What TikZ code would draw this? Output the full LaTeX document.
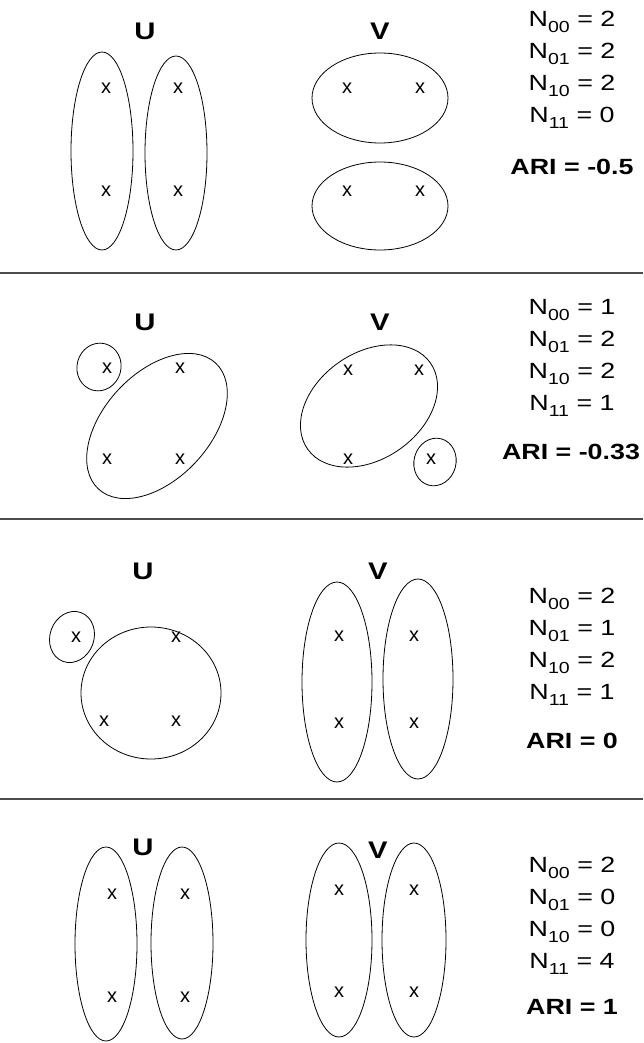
\documentclass[tikz,border=0pt]{standalone}
\usepackage{fontspec}
\setmainfont{Liberation Sans}
\usetikzlibrary{positioning}

\newcommand{\ix}[1]{\raisebox{-6pt}{\fontsize{16}{16}\selectfont #1}}
\newcommand{\wide}[1]{\scalebox{1.22}[1]{#1}}

\tikzset{
    cluster/.style={line width=0.8pt},
    pt/.style={inner sep=0pt, font=\fontsize{20}{20}\selectfont},
    setname/.style={inner sep=0pt, font=\fontsize{24}{24}\selectfont\bfseries},
    stat/.style={inner sep=0pt, anchor=base, font=\fontsize{22}{22}\selectfont},
    ari/.style={inner sep=0pt, anchor=base, font=\fontsize{22}{22}\selectfont\bfseries},
    divider/.style={line width=1.2pt, black!70}
}

\begin{document}
\begin{tikzpicture}[x=1pt, y=-1pt]
    \useasboundingbox (0,0) rectangle (643,1043);

    % Panel 1: ARI = -0.5
    \node[setname] (u1) at (145,31) {\wide{U}};
    \node[setname] (v1) at (380,31) {\wide{V}};
    \draw[cluster] (102,151) ellipse [x radius=31, y radius=99];
    \draw[cluster] (176,153) ellipse [x radius=31, y radius=97];
    \draw[cluster] (380,98) ellipse [x radius=68, y radius=45];
    \draw[cluster] (380,206) ellipse [x radius=68, y radius=44];
    \foreach \px/\py [count=\k] in {106/88, 178/88, 106/191, 178/191,
                                    347/88, 420/88, 347/191, 420/191}
        \node[pt] (a\k) at (\px,\py) {x};
    \foreach \txt [count=\k from 0] in {N\ix{00} = 2, N\ix{01} = 2, N\ix{10} = 2, N\ix{11} = 0}
        \node[stat] (sa\k) at (572,27+32*\k) {\wide{\txt}};
    \node[ari] (aria) at (572,175) {\wide{ARI = -0.5}};

    \draw[divider] (0,273) -- (643,273);

    % Panel 2: ARI = -0.33
    \node[setname] (u2) at (145,322) {\wide{U}};
    \node[setname] (v2) at (380,322) {\wide{V}};
    \draw[cluster, rotate around={-15:(99,367)}] (99,367) ellipse [x radius=22, y radius=24];
    \draw[cluster, rotate around={47:(157,426)}] (157,426) ellipse [x radius=86, y radius=53];
    \draw[cluster, rotate around={35:(369,406)}] (369,406) ellipse [x radius=75, y radius=53];
    \draw[cluster, rotate around={-15:(435,462)}] (435,462) ellipse [x radius=21, y radius=24];
    \foreach \px/\py [count=\k] in {107/368, 180/368, 107/459, 180/459,
                                    348/370, 419/370, 348/459, 431/459}
        \node[pt] (b\k) at (\px,\py) {x};
    \foreach \txt [count=\k from 0] in {N\ix{00} = 1, N\ix{01} = 2, N\ix{10} = 2, N\ix{11} = 1}
        \node[stat] (sb\k) at (572,314+32*\k) {\wide{\txt}};
    \node[ari] (arib) at (571,459) {\wide{ARI = -0.33}};

    \draw[divider] (0,519) -- (643,519);

    % Panel 3: ARI = 0
    \node[setname] (u3) at (143,571) {\wide{U}};
    \node[setname] (v3) at (378,571) {\wide{V}};
    \draw[cluster, rotate around={-20:(72,637)}] (72,637) ellipse [x radius=22, y radius=26];
    \draw[cluster] (151,693) ellipse [x radius=70, y radius=66];
    \draw[cluster] (337,682) ellipse [x radius=35, y radius=100];
    \draw[cluster] (418,679) ellipse [x radius=35, y radius=100];
    \foreach \px/\py [count=\k] in {76/637, 176/637, 104/721, 176/721,
                                    339/636, 414/636, 339/723, 414/723}
        \node[pt] (c\k) at (\px,\py) {x};
    \foreach \txt [count=\k from 0] in {N\ix{00} = 2, N\ix{01} = 1, N\ix{10} = 2, N\ix{11} = 1}
        \node[stat] (sc\k) at (572,603+32*\k) {\wide{\txt}};
    \node[ari] (aric) at (572,748) {\wide{ARI = 0}};

    \draw[divider] (0,799) -- (643,799);

    % Panel 4: ARI = 1
    \node[setname] (u4) at (143,847) {\wide{U}};
    \node[setname] (v4) at (378,850) {\wide{V}};
    \draw[cluster] (106,944) ellipse [x radius=31, y radius=97];
    \draw[cluster] (182,943) ellipse [x radius=31, y radius=96];
    \draw[cluster] (339,940) ellipse [x radius=33, y radius=97];
    \draw[cluster] (414,940) ellipse [x radius=32, y radius=97];
    \foreach \px/\py [count=\k] in {112/894, 185/894, 112/997, 185/997,
                                    339/890, 414/890, 339/992, 414/992}
        \node[pt] (d\k) at (\px,\py) {x};
    \foreach \txt [count=\k from 0] in {N\ix{00} = 2, N\ix{01} = 0, N\ix{10} = 0, N\ix{11} = 4}
        \node[stat] (sd\k) at (572,872+32*\k) {\wide{\txt}};
    \node[ari] (arid) at (572,1014) {\wide{ARI = 1}};
\end{tikzpicture}
\end{document}
